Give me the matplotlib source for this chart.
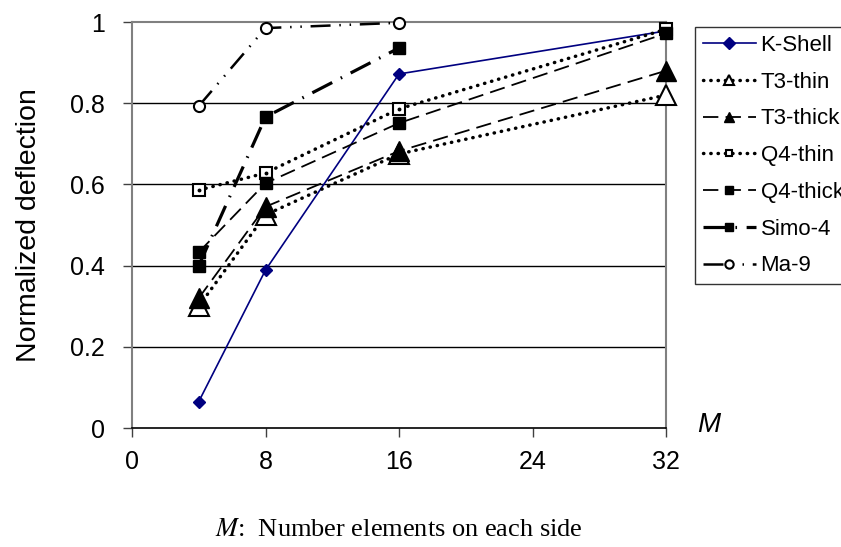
import matplotlib
matplotlib.use("Agg")
import matplotlib.pyplot as plt
from matplotlib.lines import Line2D

M = [4, 8, 16, 32]
M_short = [4, 8, 16]
k_shell = [0.065, 0.389, 0.872, 0.978]
t3_thin = [0.300, 0.525, 0.675, 0.820]
t3_thick = [0.320, 0.545, 0.682, 0.880]
q4_thin = [0.586, 0.628, 0.786, 0.982]
q4_thick = [0.433, 0.603, 0.751, 0.972]
simo_4 = [0.400, 0.766, 0.936]
ma_9 = [0.793, 0.985, 0.998]

xticks = [0, 8, 16, 24, 32]
yticks = [0, 0.2, 0.4, 0.6, 0.8, 1]
ytick_labels = ["0", "0.2", "0.4", "0.6", "0.8", "1"]

plt.rcParams['font.family'] = ['Liberation Sans', 'DejaVu Sans']

fig = plt.figure(figsize=(8.41, 5.47), dpi=100)
ax = fig.add_axes([132/841, 1 - 428/547, (666-132)/841, (428-22)/547])

dot = (0, (0.1, 2.0))
dash = (0, (8.5, 4))
dashdot = (0, (7, 3, 0.5, 3))
dashdotdot = (0, (8, 3.5, 0.6, 3.5, 0.6, 3.5))

styles = [
    ("K-Shell", M, k_shell, dict(color="#000080", lw=1.2, ls="-", marker="D", ms=6.5, mfc="#000080", mec="#000080"), 6),
    ("T3-thin", M, t3_thin, dict(color="black", lw=2.5, ls=dot, dash_capstyle="round", marker="^", ms=15, mfc="white", mec="black", mew=1.5), 7),
    ("T3-thick", M, t3_thick, dict(color="black", lw=1.3, ls=dash, marker="^", ms=15, mfc="black", mec="black"), 7),
    ("Q4-thin", M, q4_thin, dict(color="black", lw=2.5, ls=dot, dash_capstyle="round", marker="s", ms=8, mfc="white", mec="black", mew=1.5), 5),
    ("Q4-thick", M, q4_thick, dict(color="black", lw=1.3, ls=dash, marker="s", ms=9, mfc="black", mec="black"), 6),
    ("Simo-4", M_short, simo_4, dict(color="black", lw=2.3, ls=dashdot, marker="s", ms=9, mfc="black", mec="black"), 6),
    ("Ma-9", M_short, ma_9, dict(color="black", lw=1.8, ls=dashdotdot, marker="o", ms=8, mfc="white", mec="black", mew=1.5), 6),
]

handles = []
for i, (name, xs, ys, st, lms) in enumerate(styles):
    ax.plot(xs, ys, zorder=3 + i, clip_on=False, **st)
    hst = dict(st)
    hst["ms"] = lms
    handles.append(Line2D([], [], **hst))

# centre dots of the open squares (Q4-thin)
ax.plot(M, q4_thin, ls="none", marker="o", ms=1.8, color="black", zorder=20, clip_on=False)

ax.set_xlim(0, 32)
ax.set_ylim(0, 1)
ax.set_xticks(xticks)
ax.set_yticks(yticks)
ax.set_yticklabels(ytick_labels)
ax.tick_params(axis="both", labelsize=18, direction="out", length=6.5, width=1, colors="#404040", labelcolor="black")
ax.tick_params(axis="x", pad=9)
ax.tick_params(axis="y", pad=13)

for y in [0.2, 0.4, 0.6, 0.8]:
    ax.axhline(y, color="black", lw=1, zorder=1)

for s in ["top", "right", "left"]:
    ax.spines[s].set_color("#808080")
    ax.spines[s].set_linewidth(1.5)
ax.spines["bottom"].set_color("black")
ax.spines["bottom"].set_linewidth(1.2)

ax.set_ylabel("Normalized deflection", fontsize=20.5)
ax.yaxis.set_label_coords(-0.168, 0.501)

fig.text(697/841, 1 - 425/547, "M", fontsize=20, style="italic", ha="left", va="center")
fig.text(399/841, 1 - 530/547, r"$M$:  Number elements on each side", fontsize=19,
         ha="center", va="center", family="Liberation Serif", math_fontfamily="stix")

leg = fig.legend(handles, [s[0] for s in styles], loc="upper left",
                 bbox_to_anchor=(695/841, 1 - 27/547), bbox_transform=fig.transFigure,
                 fontsize=16, frameon=True, fancybox=False, edgecolor="black",
                 handlelength=2.4, handletextpad=0.2, labelspacing=0.71,
                 borderpad=0.35, borderaxespad=0)
leg.get_frame().set_linewidth(1.0)

fig.savefig("out.png", dpi=100)
